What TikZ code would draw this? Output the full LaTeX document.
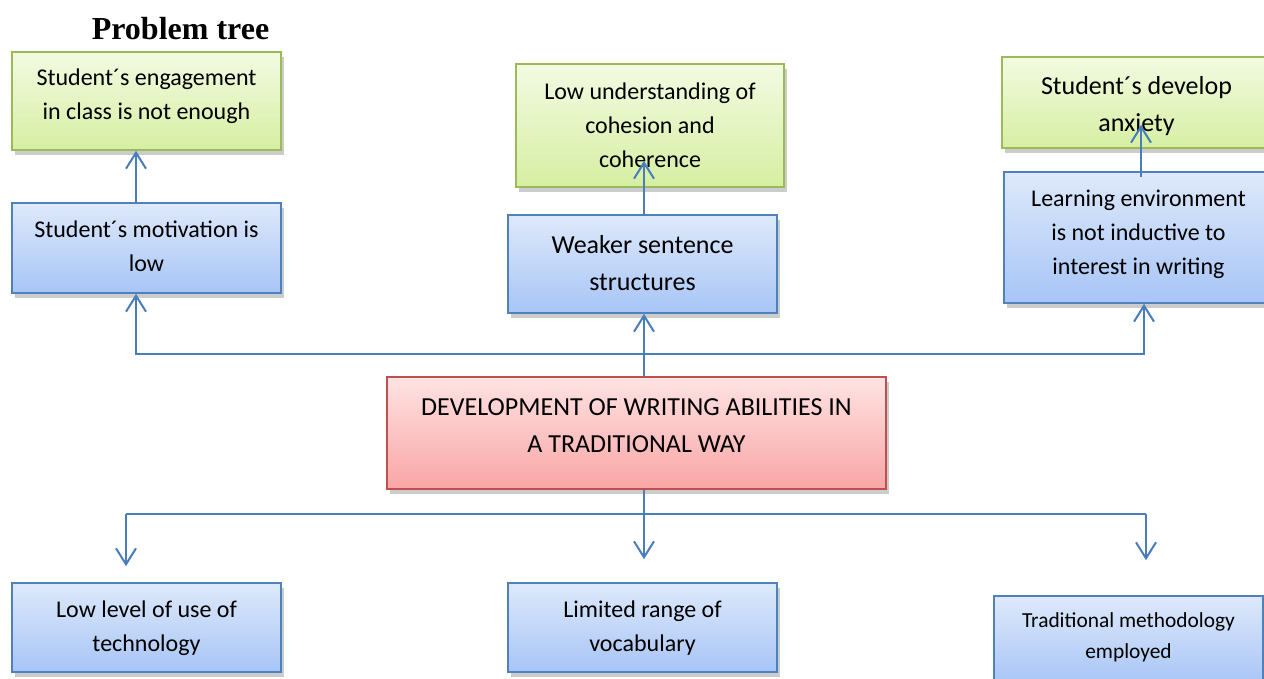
\documentclass[tikz,border=0pt]{standalone}
\usepackage{fontspec}
\setmainfont{Carlito}
\newfontfamily\titlefont{Liberation Serif}
\usepackage{tikz}
\usetikzlibrary{calc,arrows.meta,shadows}

\definecolor{efftop}{HTML}{F3FAE2}
\definecolor{effbot}{HTML}{D6EFA2}
\definecolor{effline}{HTML}{9BBB59}
\definecolor{causetop}{HTML}{DEE9FB}
\definecolor{causebot}{HTML}{A7C5F6}
\definecolor{causeline}{HTML}{4F81BD}
\definecolor{coretop}{HTML}{FFE3E3}
\definecolor{corebot}{HTML}{F9A5A5}
\definecolor{coreline}{HTML}{C0504D}
\definecolor{linkblue}{HTML}{4A7EBB}

\begin{document}
\begin{tikzpicture}[x=0.5pt,y=-0.5pt,
    box/.style={draw,line width=0.8pt,minimum width=134.5pt,
        drop shadow={shadow xshift=1.5pt,shadow yshift=-2.5pt,opacity=0.4}},
    effbox/.style={box,draw=effline,top color=efftop,bottom color=effbot},
    causebox/.style={box,draw=causeline,top color=causetop,bottom color=causebot},
    corebox/.style={box,draw=coreline,top color=coretop,bottom color=corebot},
    lbl/.style={align=center,font=\fontsize{12}{17}\selectfont},
    lblbig/.style={align=center,font=\fontsize{13}{18.5}\selectfont},
    lblsmall/.style={align=center,font=\fontsize{10.7}{15.5}\selectfont},
    link/.style={draw=linkblue,line width=1pt},
    arr/.style={link,-{Straight Barb[length=8pt,width=10pt]}}]
        \useasboundingbox (0,0) rectangle (1264,679);
        \clip (0,0) rectangle (1264,679);

        \node[font=\titlefont\bfseries\fontsize{16}{19}\selectfont] (title) at (180.5,29) {Problem tree};

        % effects
        \node[effbox,minimum height=49pt,
            label={[lbl,yshift=2.5pt]center:{Student´s engagement\\in class is not enough}}] (e1) at (146.5,101) {};
        \node[effbox,minimum width=134pt,minimum height=61.5pt,
            label={[lbl,yshift=0pt]center:{Low understanding of\\cohesion and\\coherence}}] (e2) at (650,125.5) {};
        \node[effbox,minimum height=45.5pt,
            label={[lblbig,yshift=-2pt]center:{Student´s develop\\anxiety}}] (e3) at (1136.5,102.5) {};

        % causes
        \node[causebox,minimum height=45pt,
            label={[lbl,yshift=0.75pt]center:{Student´s motivation is\\low}}] (c1) at (146.5,248) {};
        \node[causebox,minimum height=49pt,
            label={[lblbig,yshift=0.5pt]center:{Weaker sentence\\structures}}] (c2) at (642.5,264) {};
        \node[causebox,minimum height=65.5pt,
            label={[lbl,yshift=1.75pt]center:{Learning environment\\is not inductive to\\interest in writing}}] (c3) at (1138.5,237.5) {};

        % core problem
        \node[corebox,minimum width=249.5pt,minimum height=56pt,
            label={[lblbig,yshift=3.75pt]center:{DEVELOPMENT OF WRITING ABILITIES IN\\A TRADITIONAL WAY}}] (core) at (636.5,433) {};

        % roots
        \node[causebox,minimum height=44.5pt,
            label={[lbl,yshift=-0.25pt]center:{Low level of use of\\technology}}] (b1) at (146.5,627.5) {};
        \node[causebox,minimum height=44.5pt,
            label={[lbl,yshift=-0.25pt]center:{Limited range of\\vocabulary}}] (b2) at (642.5,627.5) {};
        \node[causebox,minimum height=44.5pt,
            label={[lblsmall,yshift=1.75pt]center:{Traditional methodology\\employed}}] (b3) at (1128.5,640.5) {};

        % upper branches
        \coordinate (hub) at (644,354);
        \coordinate (hubl) at (136,354);
        \coordinate (hubr) at (1144,354);
        \draw[arr] (hub |- core.north) -- (hub |- c2.south);
        \draw[arr] (hub) -- (hubl) -- (hubl |- c1.south);
        \draw[arr] (hub) -- (hubr) -- (hubr |- c3.south);

        \draw[arr] (hubl |- c1.north) -- (hubl |- e1.south);
        \draw[arr] (hub |- c2.north) -- ($(hub |- e2.south)+(0,-27)$);
        \draw[arr] ($(hubr |- c3.north)+(-3,6)$) -- ($(hubr |- e3.south)+(-3,-24)$);

        % lower branches
        \coordinate (hubd) at (644,514);
        \coordinate (hubdl) at (126,514);
        \coordinate (hubdr) at (1146,514);
        \coordinate (tipl) at ($(hubdl |- b1.north)+(0,-16)$);
        \coordinate (tipm) at ($(hubd |- b2.north)+(0,-23)$);
        \coordinate (tipr) at ($(hubdr |- b3.north)+(0,-35)$);
        \draw[link] (hubdl) -- (hubdr);
        \draw[arr] (hubd |- core.south) -- (tipm);
        \draw[arr] (hubdl) -- (tipl);
        \draw[arr] (hubdr) -- (tipr);
\end{tikzpicture}
\end{document}
